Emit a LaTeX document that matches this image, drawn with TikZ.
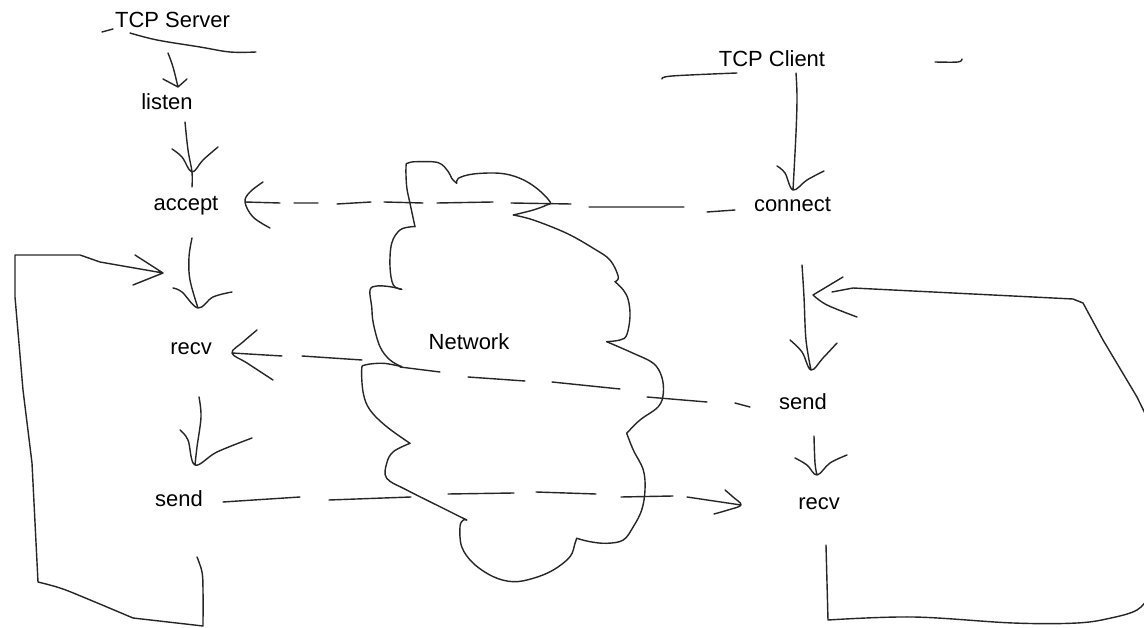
\documentclass[tikz,border=0pt]{standalone}
\usepackage{fontspec}
\setmainfont{Liberation Sans}
\newcommand\lblfont{\fontsize{12.5}{15}\selectfont}
\begin{document}
\begin{tikzpicture}[x=0.02cm,y=-0.02cm,
  ink/.style={line width=0.8pt,line join=round,line cap=round,black!85},
  lbl/.style={font=\lblfont,anchor=base,inner sep=0pt,text=black},
  sm/.style={smooth,tension=0.6}]
\useasboundingbox (0,0) rectangle (1144,628);
\clip (0,0) rectangle (1144,628);
% ---------------- labels ----------------
\node[lbl] (srv)     at (172.5,28) {TCP Server};
\node[lbl] (listen)  at (167,110)  {listen};
\node[lbl] (accept)  at (186,211)  {accept};
\node[lbl] (srecv)   at (191,355)  {recv};
\node[lbl] (ssend)   at (179,507)  {send};
\node[lbl] (cli)     at (772,67)   {TCP Client};
\node[lbl] (connect) at (792.5,212){connect};
\node[lbl] (csend)   at (803,410)  {send};
\node[lbl] (crecv)   at (819,510)  {recv};
\node[lbl] (net)     at (469,350)  {Network};
% ---------------- title strokes ----------------
\draw[ink] (102,32) -- (113,29);
\draw[ink] plot[sm] coordinates {(130,33) (157,40) (200,47) (230,52) (256,52)};
\draw[ink] plot[sm] coordinates {(662,79) (672,76) (737,73)};
\draw[ink] plot[sm] coordinates {(935,62) (958,62) (962,59)};
% ---------------- server side ----------------
\coordinate (a1s) at (168,53); \coordinate (a1e) at (178,87);
\draw[ink] plot[sm] coordinates {(a1s) (173,67) (a1e)}
  (163,79) -- (a1e) -- (187,79);
\coordinate (a2s) at (185,122); \coordinate (a2e) at (192,172);
\draw[ink] plot[sm] coordinates {(a2s) (188,150) (a2e) (192,187)}
  plot[sm] coordinates {(172,149) (182,157) (a2e) (203,160) (218,147)};
\coordinate (a3s) at (192,238); \coordinate (a3e) at (198,308);
\draw[ink] plot[sm] coordinates {(a3s) (189,257) (190,280) (a3e)}
  plot[sm] coordinates {(173,288) (182,292) (a3e) (213,297) (232,292)};
\coordinate (a4s) at (199,397); \coordinate (a4e) at (195,465);
\draw[ink] plot[sm] coordinates {(a4s) (201,417) (197,447) (a4e)}
  plot[sm] coordinates {(180,430) (188,440) (a4e) (217,452) (252,438)};
% server loop
\coordinate (l1s) at (197,557); \coordinate (l1e) at (163,273);
\draw[ink] plot[sm] coordinates {(l1s) (202,572) (203,590) (203,626)}
  -- plot[sm] coordinates {(133,618) (83,597) (60,588) (38,582)}
  -- (32,463) -- (23,390) -- (15,297) -- (15,255) -- (80,255) -- (100,262) -- (l1e)
  (135,255) -- (l1e) -- (133,285);
% ---------------- client side ----------------
\coordinate (b1s) at (796,73); \coordinate (b1e) at (793,190);
\draw[ink] plot[sm] coordinates {(b1s) (797,97) (796,133) (b1e)}
  plot[sm] coordinates {(777,166) (785,173) (b1e) (807,180) (824,171)};
\coordinate (b2s) at (802,265); \coordinate (b2e) at (811,370);
\draw[ink] plot[sm] coordinates {(b2s) (804,297) (806,340) (b2e)}
  plot[sm] coordinates {(790,340) (802,352) (b2e) (823,358) (837,343)};
\coordinate (b3s) at (814,436); \coordinate (b3e) at (817,475);
\draw[ink] plot[sm] coordinates {(b3s) (815,463) (b3e)}
  plot[sm] coordinates {(795,458) (807,465) (b3e) (830,463) (847,455)};
% client loop (its right side runs off the picture)
\coordinate (l2s) at (826,545); \coordinate (l2e) at (813,295);
\draw[ink] (l2s) -- (828,620)
  -- plot[sm] coordinates {(828,620) (913,617) (1013,623) (1077,623) (1111,618) (1137,610) (1150,596) (1165,580)}
  -- (1180,560) -- (1180,450) -- (1158,440) -- (1137,397) -- (1103,340) -- (1083,303) -- (1073,299) -- (853,288) -- (832,292)
  (843,277) -- (l2e)
  plot[sm] coordinates {(l2e) (827,305) (857,317)};
% ---------------- dashed connectors ----------------
% connect -> accept
\coordinate (d1s) at (735,210); \coordinate (d1e) at (245,202);
\draw[ink] (d1s) -- (707,212) (684,207) -- (589,207) (571,204) -- (511,203)
  (493,202) -- (437,203) (423,203) -- (384,202) (371,202) -- (337,204)
  (318,203) -- (294,203) (280,203) -- (d1e)
  plot[sm] coordinates {(263,182) (250,192) (d1e) (253,217) (270,228)};
% client send -> server recv
\coordinate (d2s) at (750,407); \coordinate (d2e) at (232,353);
\draw[ink] (d2s) -- (735,403) (707,402) -- (647,397) (620,389) -- (552,382)
  (525,381) -- (468,377) (440,372) -- (400,367) (362,360) -- (302,356)
  (282,356) -- (d2e)
  plot[sm] coordinates {(257,330) (243,342) (d2e) (247,363) (273,380)};
% server send -> client recv
\coordinate (d3s) at (223,502); \coordinate (d3e) at (741,505);
\draw[ink] (d3s) -- (300,497) (329,500) -- (411,497) (448,494) -- (514,493)
  (536,492) -- (596,494) (621,497) -- (673,496) (687,497) -- (d3e)
  plot[sm] coordinates {(725,490) (733,497) (d3e) (728,510) (714,514)};
% ---------------- network cloud ----------------
\begin{scope}[ink]
\draw plot[sm] coordinates {(415,226.7) (410,203.3) (406.7,186.7) (406,166.7) (408,163) (416.7,161.7) (438.3,162.7) (448.3,171.7) (451.7,178.3) (456.7,183.3)};
\draw plot[sm] coordinates {(456.7,183.3) (458.3,178.3) (473.3,174) (500,173.3) (520,178.3) (536.7,188.3) (550,201.7) (546.7,205) (533.3,210) (513.3,215)};
\draw plot[sm] coordinates {(513.3,215) (533.3,220) (566.7,233.3) (593.3,248.3) (610,260) (618.3,276.7) (615,281.7)};
\draw plot[sm] coordinates {(615,281.7) (623.3,290) (628.3,300) (630,316.7) (626.7,335) (620,340) (606.7,341.7)};
\draw plot[sm] coordinates {(606.7,341.7) (633.3,353.3) (653.3,363.3) (661.7,376.7) (663.3,393.3) (658.3,406.7) (640,420) (626.7,433.3)};
\draw plot[sm] coordinates {(626.7,433.3) (633.3,450) (643.3,470) (645,490) (641.7,510) (633.3,526.7) (623.3,540) (606.7,543.3) (590,541.7) (576.7,538.3)};
\draw plot[sm] coordinates {(576.7,538.3) (575,543.3) (570,556.7) (553.3,570) (533.3,578.3) (513.3,581.7) (493.3,576.7) (473.3,563.3) (461.7,546.7) (460,526.7) (463.3,520) (466.7,520)};
\draw plot[sm] coordinates {(466.7,520) (440,506.7) (406.7,490) (386.7,478.3) (386.7,463.3) (393.3,451.7) (410,443.3)};
\draw plot[sm] coordinates {(410,443.3) (386.7,426.7) (370,410) (363.3,393.3) (361.7,370) (365,365) (383.3,363.3) (401.7,366.7)};
\draw plot[sm] coordinates {(401.7,366.7) (390,360) (380,346.7) (373.3,323.3) (371.7,306.7) (370,290) (376.7,286) (390,286.7) (401.7,289.3)};
\draw plot[sm] coordinates {(401.7,289.3) (393.3,285) (390,266.7) (391.7,243.3) (400,230) (411.7,226.7) (415,226.7)};
\end{scope}
\end{tikzpicture}
\end{document}
